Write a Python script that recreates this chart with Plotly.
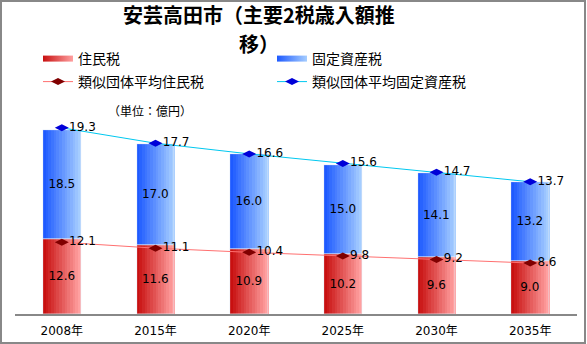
import plotly.graph_objects as go

years = ["2008年", "2015年", "2020年", "2025年", "2030年", "2035年"]
juminzei = [12.6, 11.6, 10.9, 10.2, 9.6, 9.0]
kotei = [18.5, 17.0, 16.0, 15.0, 14.1, 13.2]
avg_juminzei = [12.1, 11.1, 10.4, 9.8, 9.2, 8.6]
avg_kotei = [19.3, 17.7, 16.6, 15.6, 14.7, 13.7]
title_lines = ["安芸高田市（主要2税歳入額推", "移）"]

W, H = 587, 344
ML, MR, MT, MB = 15, 10, 100, 30
PW, PH = W - ML - MR, H - MT - MB
SCALE = 5.93  # px per unit
YMAX = PH / SCALE

BAR_W = 0.405
N = 14

def lerp(c1, c2, t):
    return "rgb(%d,%d,%d)" % tuple(round(a + (b - a) * t) for a, b in zip(c1, c2))

RED_L, RED_R = (200, 16, 16), (255, 160, 160)
BLUE_L, BLUE_R = (30, 90, 255), (165, 205, 255)

num_font = "DejaVu Sans, Noto Sans CJK JP"
fig = go.Figure()

xs = list(range(len(years)))
for k in range(N):
    t = k / (N - 1)
    off = -BAR_W / 2 + k * BAR_W / N
    fig.add_trace(go.Bar(x=xs, y=juminzei, width=BAR_W / N * 1.15, offset=off,
                         marker=dict(color=lerp(RED_L, RED_R, t), line=dict(width=0)),
                         showlegend=False, hoverinfo="skip"))
    fig.add_trace(go.Bar(x=xs, y=kotei, base=juminzei, width=BAR_W / N * 1.15, offset=off,
                         marker=dict(color=lerp(BLUE_L, BLUE_R, t), line=dict(width=0)),
                         showlegend=False, hoverinfo="skip"))

# value labels inside bars
fig.add_trace(go.Bar(x=xs, y=juminzei, width=BAR_W, marker=dict(color="rgba(0,0,0,0)"),
                     text=["%.1f" % v for v in juminzei], textposition="inside",
                     insidetextanchor="middle", textangle=0,
                     textfont=dict(family=num_font, size=12, color="black"),
                     showlegend=False, hoverinfo="skip"))
fig.add_trace(go.Bar(x=xs, y=kotei, base=juminzei, width=BAR_W, marker=dict(color="rgba(0,0,0,0)"),
                     text=["%.1f" % v for v in kotei], textposition="inside",
                     insidetextanchor="middle", textangle=0,
                     textfont=dict(family=num_font, size=12, color="black"),
                     showlegend=False, hoverinfo="skip"))

# legend-only gradient swatches
fig.add_trace(go.Scatter(x=[None], y=[None], mode="none", fill="toself", name="住民税",
                         fillgradient=dict(type="horizontal",
                                           colorscale=[[0, lerp(RED_L, RED_R, 0)], [1, lerp(RED_L, RED_R, 1)]]),
                         fillcolor="#e06060", legend="legend"))
fig.add_trace(go.Scatter(x=[None], y=[None], mode="none", fill="toself", name="固定資産税",
                         fillgradient=dict(type="horizontal",
                                           colorscale=[[0, lerp(BLUE_L, BLUE_R, 0)], [1, lerp(BLUE_L, BLUE_R, 1)]]),
                         fillcolor="#6090ff", legend="legend"))

stack_avg = [a + b for a, b in zip(avg_juminzei, avg_kotei)]
fig.add_trace(go.Scatter(x=xs, y=avg_juminzei, mode="lines+markers+text", name="類似団体平均住民税",
                         line=dict(color="#ff7070", width=1),
                         marker=dict(symbol="diamond-wide", size=10, color="#800000"),
                         text=["%.1f" % v for v in avg_juminzei], textposition="middle right",
                         textfont=dict(family=num_font, size=12, color="black"),
                         cliponaxis=False, legend="legend2", hoverinfo="skip"))
fig.add_trace(go.Scatter(x=xs, y=stack_avg, mode="lines+markers+text", name="類似団体平均固定資産税",
                         line=dict(color="#00c8f0", width=1),
                         marker=dict(symbol="diamond-wide", size=10, color="#0000d8"),
                         text=["%.1f" % v for v in avg_kotei], textposition="middle right",
                         textfont=dict(family=num_font, size=12, color="black"),
                         cliponaxis=False, legend="legend2", hoverinfo="skip"))

legend_common = dict(orientation="h", xref="container", yref="container", xanchor="left",
                     yanchor="middle", entrywidth=189, entrywidthmode="pixels",
                     font=dict(family="Noto Sans CJK JP", size=14, color="black"),
                     bgcolor="rgba(0,0,0,0)", traceorder="normal")

def py(pix):
    return (H - MB - pix) / PH

def px(pix):
    return (pix - ML) / PW

title_font = dict(family="Noto Sans CJK JP", size=20, color="black", weight="bold")
fig.update_layout(
    width=W, height=H,
    margin=dict(l=ML, r=MR, t=MT, b=MB, autoexpand=False),
    paper_bgcolor="white", plot_bgcolor="white",
    barmode="overlay", bargap=0,
    legend=dict(x=38 / W, y=1 - 59 / H, **legend_common),
    legend2=dict(x=38 / W, y=1 - 82 / H, **legend_common),
    xaxis=dict(tickmode="array", tickvals=xs, ticktext=years, range=[-0.5, len(years) - 0.5],
               showgrid=False, zeroline=False, showline=True, linecolor="#888888", linewidth=1.5,
               ticks="outside", ticklen=5, tickcolor="rgba(0,0,0,0)",
               tickfont=dict(family=num_font, size=12, color="black")),
    yaxis=dict(range=[0, YMAX], visible=False, showgrid=False),
    annotations=[
        dict(text=title_lines[0], xref="paper", yref="paper", x=px(259), y=py(15),
             xanchor="center", yanchor="middle", showarrow=False, font=title_font),
        dict(text=title_lines[1], xref="paper", yref="paper", x=px(259), y=py(44),
             xanchor="center", yanchor="middle", showarrow=False, font=title_font),
        dict(text="（単位：億円）", xref="paper", yref="paper", x=px(150), y=py(110),
             xanchor="center", yanchor="middle", showarrow=False,
             font=dict(family="Noto Sans CJK JP", size=12, color="black")),
    ],
    shapes=[dict(type="rect", xref="paper", yref="paper",
                 x0=px(1), x1=px(585), y0=py(343), y1=py(1),
                 line=dict(color="#888888", width=2), fillcolor="rgba(0,0,0,0)", layer="above")],
)

fig.write_html("out.html")
